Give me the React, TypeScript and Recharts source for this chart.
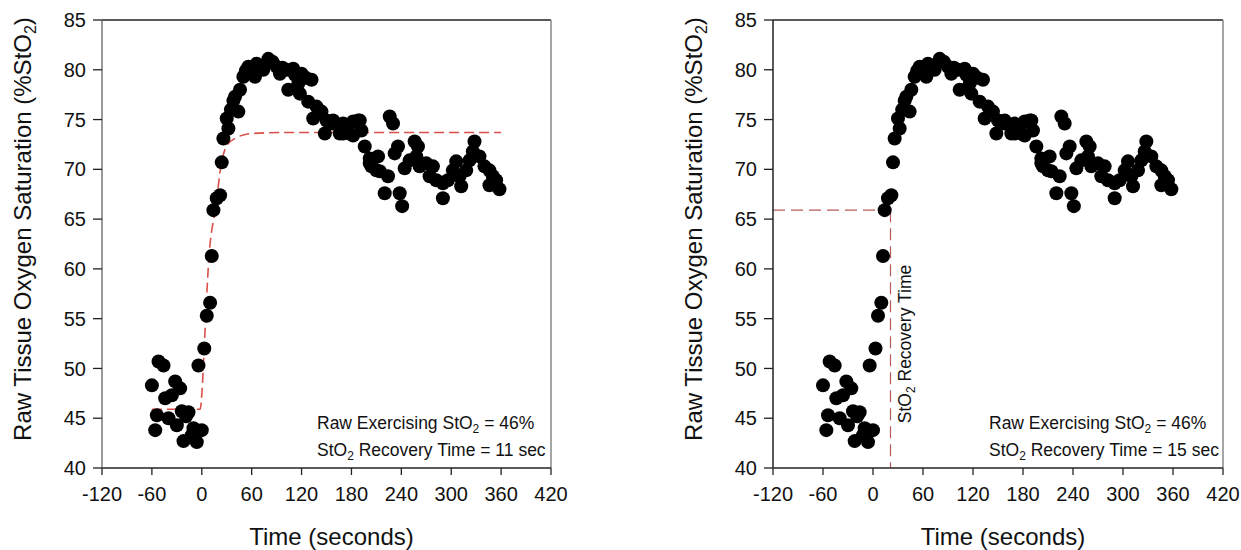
import React from 'react';
import { ComposedChart, Scatter, Line, XAxis, YAxis, ReferenceLine } from 'recharts';

// Time (s) and raw tissue oxygen saturation (%StO2) readings
const timeSec = [
  -52, -46, -60, -32, -26, -44, -36, -54, -40, -30, -56, -24, -16, -19, -22, -6, -10, 0, -12, -4,
  3, 6, 10, 12, 14, 18, 22,
  24, 26, 32, 30, 44, 38, 46, 50, 56, 66, 80, 64, 74, 90, 94, 102, 110, 104, 116, 120, 132, 118,
  128, 138, 134, 144, 150, 148, 158, 166, 170, 178, 182, 190, 192, 196, 202, 210,
  60, 70, 85, 97, 112, 125, 40, 35, 53,
  158, 170, 182, 188, 202, 212, 204, 214, 224, 220, 226, 230, 238, 241, 236, 232, 244, 250, 256,
  260, 258, 262, 270, 278, 274, 282, 290, 290, 296, 302, 306, 310, 312, 318, 322, 326, 328, 334,
  340, 346, 350, 346, 354, 358,
];
const sto2 = [
  50.7, 50.3, 48.3, 48.7, 48.0, 47.0, 47.3, 45.3, 45.0, 44.3, 43.8, 45.7, 45.6, 45.2, 42.7, 42.6, 44.0, 43.8, 43.3, 50.3,
  52.0, 55.3, 56.6, 61.3, 65.9, 67.1, 67.4,
  70.7, 73.1, 74.1, 75.1, 75.8, 76.9, 78.0, 79.3, 80.3, 80.6, 81.1, 79.3, 80.0, 80.3, 79.6, 80.0, 80.1, 78.0, 78.6, 79.6, 79.0, 77.6,
  76.8, 76.3, 75.1, 75.8, 74.9, 73.6, 74.6, 73.6, 74.6, 73.6, 74.8, 74.9, 73.9, 72.3, 70.6, 69.9,
  80.2, 80.4, 80.8, 80.2, 79.5, 79.2, 77.3, 76.0, 79.9,
  74.9, 73.6, 73.4, 74.9, 71.1, 71.3, 70.3, 69.8, 69.3, 67.6, 75.3, 74.6, 67.6, 66.3, 72.3, 71.6, 70.1, 70.9, 72.8,
  72.3, 71.3, 70.3, 70.6, 70.3, 69.3, 68.9, 68.6, 67.1, 68.9, 69.9, 70.8, 69.3, 68.3, 69.9, 70.9, 71.8, 72.8, 71.3,
  70.3, 69.9, 69.3, 68.4, 68.9, 68.0,
];

// Fitted recovery curve (left panel)
const fitTime = [-60, -2, 0.5, 3, 8.4, 16.8, 23.6, 29.6, 42, 60, 100, 360];
const fitValue = [45.9, 45.9, 48, 52.2, 60.9, 66.2, 70.6, 72.3, 73.2, 73.6, 73.7, 73.7];

// Recovery-time markers (right panel)
const recoveryMarkTime = 21;
const recoveryMarkValue = 65.9;

const xTicks = [-120, -60, 0, 60, 120, 180, 240, 300, 360, 420];
const yTicks = [40, 45, 50, 55, 60, 65, 70, 75, 80, 85];

const points = timeSec.map((t, i) => ({ t, y: sto2[i] }));
const fitData = fitTime.map((t, i) => ({ t, y: fitValue[i] }));

const FONT = 'Liberation Sans, Arial, Helvetica, sans-serif';

const Dot = (props: any) => <circle cx={props.cx} cy={props.cy} r={7} fill="#000" />;

type PanelProps = {
  left: number;
  width: number;
  marginLeft: number;
  marginRight: number;
  recoverySec: number;
  variant: 'fit' | 'marker';
  leftAxisColor: string;
};

const HEIGHT = 550;
const TOP = 20;
const PLOT_BOTTOM = 468;
const Y_AXIS_W = 60;
const X_AXIS_H = 30;

function Panel({ left, width, marginLeft, marginRight, recoverySec, variant, leftAxisColor }: PanelProps) {
  const plotLeft = marginLeft + Y_AXIS_W;
  const plotRight = width - marginRight;
  const plotCenter = (plotLeft + plotRight) / 2;
  const annX = plotRight - 234;
  return (
    <div style={{ position: 'absolute', left, top: 0, width, height: HEIGHT }}>
      <ComposedChart
        width={width}
        height={HEIGHT}
        margin={{ top: TOP, right: marginRight, bottom: HEIGHT - PLOT_BOTTOM - X_AXIS_H, left: marginLeft }}
      >
        <XAxis
          type="number"
          dataKey="t"
          domain={[-120, 420]}
          ticks={xTicks}
          interval={0}
          allowDataOverflow
          height={X_AXIS_H}
          tickSize={7}
          tickMargin={12}
          axisLine={{ stroke: '#222', strokeWidth: 1.3 }}
          tickLine={{ stroke: '#222', strokeWidth: 1.3 }}
          tick={{ fill: '#111', fontSize: 20, fontFamily: FONT }}
        />
        <YAxis
          type="number"
          dataKey="y"
          domain={[40, 85]}
          ticks={yTicks}
          interval={0}
          allowDataOverflow
          width={Y_AXIS_W}
          tickSize={9}
          tickMargin={7}
          axisLine={{ stroke: leftAxisColor, strokeWidth: 1.5 }}
          tickLine={{ stroke: '#222', strokeWidth: 1.3 }}
          tick={{ fill: '#111', fontSize: 20, fontFamily: FONT }}
        />
        <ReferenceLine y={85} stroke="#222" strokeWidth={1.5} ifOverflow="visible" />
        <ReferenceLine x={420} stroke="#888" strokeWidth={1.5} ifOverflow="visible" />
        {variant === 'marker' && (
          <ReferenceLine
            segment={[{ x: -120, y: recoveryMarkValue }, { x: recoveryMarkTime, y: recoveryMarkValue }]}
            stroke="#b55a5a"
            strokeWidth={1.2}
            strokeDasharray="12 6"
            ifOverflow="visible"
          />
        )}
        {variant === 'marker' && (
          <ReferenceLine
            segment={[{ x: recoveryMarkTime, y: recoveryMarkValue }, { x: recoveryMarkTime, y: 40 }]}
            stroke="#b55a5a"
            strokeWidth={1.2}
            strokeDasharray="12 6"
            ifOverflow="visible"
          />
        )}
        <Scatter data={points} dataKey="y" shape={Dot} isAnimationActive={false} />
        {variant === 'fit' && (
          <Line
            data={fitData}
            dataKey="y"
            type="monotone"
            dot={false}
            activeDot={false}
            stroke="#d9504a"
            strokeWidth={1.6}
            strokeDasharray="10 5"
            isAnimationActive={false}
          />
        )}
      </ComposedChart>
      <svg
        width={width}
        height={HEIGHT}
        style={{ position: 'absolute', left: 0, top: 0, pointerEvents: 'none' }}
        fontFamily={FONT}
      >
        <text
          x={plotLeft - 71}
          y={229}
          transform={`rotate(-90 ${plotLeft - 71} 229)`}
          textAnchor="middle"
          fontSize={24}
          fill="#111"
        >
          Raw Tissue Oxygen Saturation (%StO
          <tspan fontSize={16} dy={5}>2</tspan>
          <tspan dy={-5}>)</tspan>
        </text>
        <text x={plotCenter + 5} y={545} textAnchor="middle" fontSize={24} fill="#111">
          Time (seconds)
        </text>
        <text x={annX} y={429} fontSize={17.5} fill="#111">
          Raw Exercising StO<tspan fontSize={12} dy={4}>2</tspan>
          <tspan dy={-4}> = 46%</tspan>
        </text>
        <text x={annX} y={456} fontSize={17.5} fill="#111">
          StO<tspan fontSize={12} dy={4}>2</tspan>
          <tspan dy={-4}>{` Recovery Time = ${recoverySec} sec`}</tspan>
        </text>
        {variant === 'marker' && (
          <text
            x={251}
            y={344}
            transform="rotate(-90 251 344)"
            textAnchor="middle"
            fontSize={17.5}
            fill="#111"
          >
            StO<tspan fontSize={12} dy={4}>2</tspan>
            <tspan dy={-4}> Recovery Time</tspan>
          </text>
        )}
      </svg>
    </div>
  );
}

export default function App() {
  return (
    <div style={{ position: 'absolute', left: 0, top: 0, width: 1241, height: 550, background: '#fff' }}>
      <Panel left={0} width={600} marginLeft={42} marginRight={49} recoverySec={11} variant="fit" leftAxisColor="#777" />
      <Panel left={660} width={581} marginLeft={53} marginRight={18} recoverySec={15} variant="marker" leftAxisColor="#222" />
    </div>
  );
}
